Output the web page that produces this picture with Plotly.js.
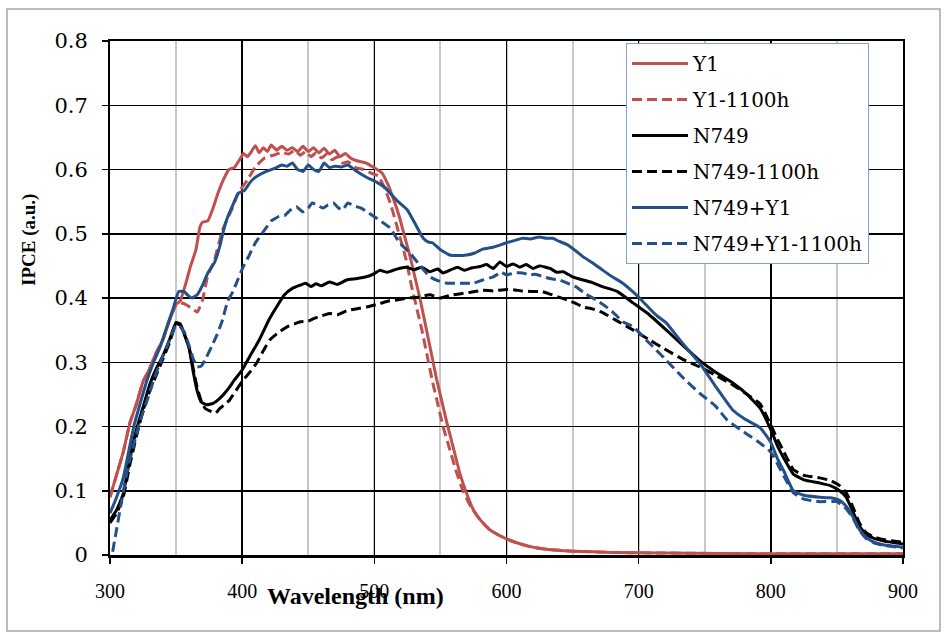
<!DOCTYPE html>
<html>
<head>
<meta charset="utf-8">
<script src="https://cdn.plot.ly/plotly-3.0.1.min.js"></script>
<style>html,body{margin:0;padding:0;background:#fff}#chart{width:944px;height:634px}</style>
</head>
<body>
<div id="chart"></div>
<script>
// ---- Data ----
const seriesNames = ["Y1", "Y1-1100h", "N749", "N749-1100h", "N749+Y1", "N749+Y1-1100h"];

const y1_x = [300,305,310,315,320,325,330,335,340,345,350,353,357,361,365,368,370,374,378,382,386,390,394,398,401,404,407,410,413,416,419,422,426,430,434,438,442,446,450,454,458,462,466,470,474,478,482,486,490,494,498,502,506,510,514,519,523,527,531,535,539,543,547,551,555,560,565,570,575,580,587,595,605,618,630,650,680,720,800,900];
const y1_y = [0.09,0.125,0.16,0.205,0.235,0.27,0.29,0.315,0.335,0.365,0.39,0.395,0.42,0.45,0.475,0.51,0.518,0.52,0.54,0.565,0.585,0.60,0.603,0.615,0.625,0.62,0.628,0.637,0.626,0.634,0.628,0.638,0.63,0.636,0.63,0.634,0.628,0.636,0.628,0.634,0.626,0.633,0.624,0.63,0.62,0.625,0.618,0.614,0.612,0.61,0.605,0.60,0.594,0.578,0.557,0.526,0.495,0.465,0.43,0.395,0.355,0.315,0.275,0.24,0.205,0.165,0.125,0.095,0.07,0.055,0.04,0.03,0.021,0.013,0.009,0.006,0.004,0.003,0.002,0.002];

const y1h_x = [300,305,310,315,320,325,330,335,340,345,350,353,357,362,366,370,374,379,385,392,397,404,410,417,425,430,435,440,444,448,452,456,460,464,468,472,476,480,486,492,498,503,508,512,516,520,524,528,532,536,540,544,548,552,557,562,567,573,580,587,595,605,618,630,650,680,720,800,900];
const y1h_y = [0.09,0.125,0.16,0.205,0.235,0.27,0.29,0.315,0.335,0.365,0.39,0.393,0.39,0.384,0.378,0.397,0.435,0.459,0.505,0.537,0.563,0.584,0.604,0.618,0.623,0.627,0.624,0.63,0.622,0.628,0.62,0.626,0.618,0.624,0.615,0.62,0.61,0.612,0.603,0.60,0.594,0.59,0.57,0.548,0.52,0.49,0.46,0.42,0.385,0.35,0.31,0.27,0.235,0.2,0.165,0.13,0.1,0.075,0.055,0.04,0.03,0.021,0.013,0.009,0.006,0.004,0.003,0.002,0.002];

const n_x = [300,305,310,315,320,325,330,335,340,345,350,353,356,360,363,366,369,373,378,382,386,390,394,400,406,413,420,426,432,438,444,448,452,456,460,466,472,479,486,494,500,504,510,517,524,530,536,542,548,552,558,563,568,574,580,585,590,595,600,605,610,615,620,625,633,638,643,650,658,665,672,684,696,708,721,733,746,758,771,782,792,800,805,810,817,825,837,845,852,857,862,867,872,878,885,900];
const n_y = [0.054,0.07,0.095,0.15,0.195,0.23,0.265,0.29,0.31,0.335,0.362,0.36,0.345,0.32,0.285,0.255,0.238,0.234,0.236,0.242,0.25,0.26,0.272,0.288,0.31,0.335,0.365,0.386,0.405,0.415,0.42,0.423,0.418,0.422,0.419,0.425,0.421,0.428,0.43,0.433,0.438,0.443,0.44,0.445,0.448,0.444,0.448,0.441,0.445,0.439,0.444,0.448,0.443,0.447,0.449,0.452,0.446,0.456,0.449,0.453,0.448,0.452,0.446,0.45,0.446,0.44,0.441,0.433,0.428,0.424,0.418,0.41,0.392,0.374,0.35,0.327,0.303,0.285,0.268,0.25,0.228,0.195,0.17,0.15,0.126,0.117,0.112,0.108,0.1,0.09,0.068,0.045,0.032,0.026,0.022,0.017];

const nh_x = [300,305,310,315,320,325,330,335,340,345,350,353,356,360,363,366,369,372,376,380,383,386,390,393,400,406,411,416,421,428,434,440,444,450,454,460,466,472,479,486,494,502,510,517,525,533,542,550,557,563,570,576,582,590,598,605,612,620,627,633,640,646,652,658,665,673,684,696,708,721,733,746,758,771,782,792,800,805,810,817,825,837,845,852,857,862,867,872,878,885,900];
const nh_y = [0.05,0.065,0.09,0.14,0.185,0.225,0.255,0.28,0.305,0.33,0.36,0.358,0.345,0.322,0.29,0.26,0.24,0.228,0.224,0.221,0.228,0.233,0.24,0.249,0.27,0.285,0.299,0.318,0.335,0.347,0.355,0.36,0.363,0.364,0.368,0.372,0.376,0.374,0.38,0.383,0.386,0.39,0.395,0.397,0.40,0.401,0.405,0.40,0.404,0.406,0.408,0.41,0.412,0.411,0.413,0.413,0.411,0.41,0.41,0.406,0.401,0.397,0.392,0.386,0.383,0.377,0.364,0.35,0.335,0.319,0.305,0.293,0.28,0.265,0.25,0.235,0.202,0.18,0.16,0.133,0.124,0.12,0.116,0.108,0.097,0.075,0.05,0.035,0.028,0.024,0.02];

const ny_x = [300,305,310,315,318,322,328,333,338,343,348,352,356,359,362,366,370,374,379,383,386,389,393,397,402,406,410,417,425,430,434,438,442,446,450,454,458,462,466,470,475,480,486,494,502,508,512,518,525,531,537,541,544,550,557,563,570,576,582,590,600,607,612,618,625,630,635,640,646,652,658,665,673,680,688,696,703,708,714,721,733,746,758,771,780,792,800,805,810,817,825,837,845,852,857,862,867,872,878,885,900];
const ny_y = [0.065,0.09,0.12,0.17,0.2,0.23,0.272,0.3,0.324,0.355,0.385,0.41,0.41,0.404,0.40,0.405,0.42,0.439,0.455,0.48,0.506,0.526,0.545,0.563,0.568,0.58,0.588,0.596,0.602,0.607,0.605,0.61,0.60,0.597,0.607,0.60,0.597,0.61,0.603,0.605,0.604,0.607,0.598,0.588,0.58,0.572,0.563,0.55,0.537,0.515,0.493,0.487,0.486,0.475,0.467,0.466,0.467,0.47,0.476,0.479,0.486,0.49,0.493,0.492,0.495,0.493,0.493,0.488,0.483,0.474,0.464,0.455,0.443,0.433,0.423,0.409,0.395,0.384,0.372,0.361,0.33,0.299,0.263,0.226,0.212,0.198,0.175,0.15,0.13,0.1,0.093,0.09,0.089,0.085,0.076,0.06,0.04,0.028,0.02,0.016,0.012];

const nyh_x = [302,305,308,312,315,319,323,328,333,338,343,347,350,353,356,360,363,366,369,373,377,381,385,389,393,397,400,405,410,417,422,428,432,436,441,446,450,453,457,461,465,469,473,476,480,485,490,496,504,512,519,527,534,542,548,555,565,575,582,590,596,600,606,612,618,622,628,634,640,646,653,660,668,675,681,688,696,708,721,733,746,758,767,775,782,792,800,805,810,817,825,837,850,857,862,867,872,878,885,900];
const nyh_y = [0.005,0.04,0.075,0.12,0.148,0.18,0.21,0.24,0.272,0.3,0.324,0.345,0.358,0.355,0.348,0.325,0.305,0.293,0.294,0.308,0.325,0.343,0.365,0.395,0.41,0.43,0.445,0.465,0.486,0.506,0.52,0.527,0.528,0.536,0.542,0.534,0.54,0.548,0.544,0.54,0.545,0.548,0.54,0.537,0.548,0.543,0.54,0.532,0.521,0.509,0.486,0.47,0.452,0.433,0.427,0.423,0.423,0.423,0.428,0.433,0.44,0.436,0.439,0.439,0.436,0.437,0.433,0.43,0.428,0.423,0.417,0.406,0.397,0.387,0.377,0.363,0.355,0.33,0.303,0.277,0.252,0.232,0.21,0.198,0.188,0.174,0.16,0.142,0.122,0.097,0.087,0.083,0.083,0.072,0.058,0.038,0.026,0.019,0.015,0.011];

const xTicks = [300,400,500,600,700,800,900];
const yTicks = [0,0.1,0.2,0.3,0.4,0.5,0.6,0.7,0.8];
const yTickText = ["0","0.1","0.2","0.3","0.4","0.5","0.6","0.7","0.8"];

// ---- Styles ----
const RED = "#C0504D", BLACK = "#000000", BLUE = "#24508A";
const DASH = "10px,5px";
const xs = [y1_x, y1h_x, n_x, nh_x, ny_x, nyh_x];
const ys = [y1_y, y1h_y, n_y, nh_y, ny_y, nyh_y];
const colors = [RED, RED, BLACK, BLACK, BLUE, BLUE];
const dashes = ["solid", DASH, "solid", DASH, "solid", DASH];

const traces = seriesNames.map((name, i) => ({
  type: "scatter", mode: "lines", name: name,
  x: xs[i], y: ys[i],
  line: {color: colors[i], width: 3, dash: dashes[i], shape: "spline", smoothing: 0.4},
  legendgroup: "g" + i
}));

const L = 110, R = 41, T = 41, B = 79;
const W = 944, H = 634;
const pw = W - L - R, ph = H - T - B;
const px = v => (v - L) / pw;
const py = v => (H - B - v) / ph;

const layout = {
  width: W, height: H,
  margin: {l: L, r: R, t: T, b: B, pad: 0},
  paper_bgcolor: "#ffffff", plot_bgcolor: "#ffffff",
  showlegend: true,
  xaxis: {
    range: [300, 900], tickmode: "array", tickvals: xTicks, ticktext: xTicks.map(String),
    showgrid: true, gridcolor: "#000000", gridwidth: 1.5,
    minor: {dtick: 50, tick0: 300, showgrid: true, gridcolor: "#c8c8c8", gridwidth: 2, ticks: ""},
    showline: true, linecolor: "#000000", linewidth: 2.5, mirror: true,
    ticks: "outside", ticklen: 6, tickwidth: 1.5, tickcolor: "#000",
    ticklabelstandoff: 10,
    tickfont: {family: "Liberation Serif", size: 20, color: "#000"},
    zeroline: false
  },
  yaxis: {
    range: [0, 0.8], tickmode: "array", tickvals: yTicks, ticktext: yTickText,
    showgrid: true, gridcolor: "#000000", gridwidth: 1.5,
    showline: true, linecolor: "#000000", linewidth: 2, mirror: true,
    ticks: "outside", ticklen: 6, tickwidth: 1.5, tickcolor: "#000",
    ticklabelstandoff: 10,
    tickfont: {family: "DejaVu Serif", size: 21, color: "#000"},
    zeroline: false
  },
  legend: {
    x: px(626), y: py(43), xanchor: "left", yanchor: "top",
    bgcolor: "#ffffff", bordercolor: "#7EA2D4", borderwidth: 1,
    font: {family: "DejaVu Serif", size: 20, color: "#000"},
    traceorder: "grouped", tracegroupgap: 7, itemwidth: 56
  },
  annotations: [
    {xref: "paper", yref: "paper", x: px(355), y: py(596), xanchor: "center", yanchor: "middle",
     text: "<b>Wavelength (nm)</b>", showarrow: false,
     font: {family: "Liberation Serif", size: 24, color: "#000"}},
    {xref: "paper", yref: "paper", x: px(29), y: py(240), xanchor: "center", yanchor: "middle",
     text: "<b>IPCE (a.u.)</b>", textangle: -90, showarrow: false,
     font: {family: "Liberation Serif", size: 19, color: "#000"}}
  ],
  shapes: [
    {type: "rect", xref: "paper", yref: "paper", x0: px(7), x1: px(940), y0: py(631), y1: py(9),
     line: {color: "#a6a6a6", width: 1.5}, fillcolor: "rgba(0,0,0,0)", layer: "below"}
  ]
};

Plotly.newPlot("chart", traces, layout, {displayModeBar: false, staticPlot: true});
</script>
</body>
</html>
